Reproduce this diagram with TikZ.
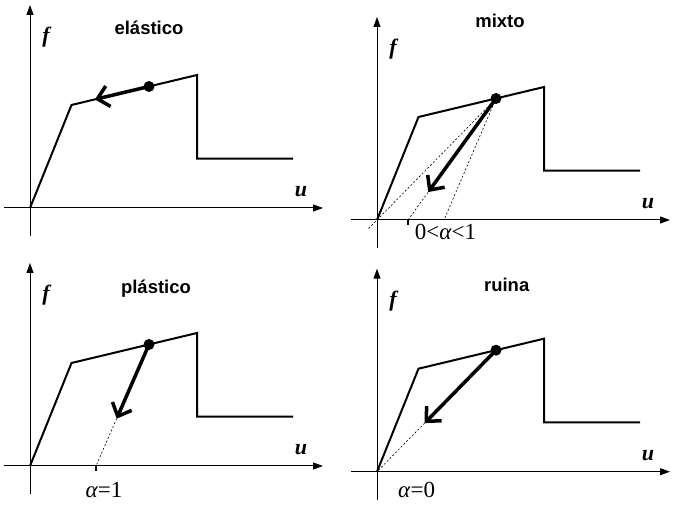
\documentclass[tikz,border=0pt]{standalone}
\usepackage{fontspec}
\setmainfont{Liberation Serif}
\newfontfamily\headfont{Liberation Sans}
\usetikzlibrary{arrows.meta,calc}
\tikzset{
    axis-line/.style = {line width=1pt, -{Triangle[length=10pt,width=7pt]}},
    law-line/.style = {line width=2pt, line join=miter},
    load-arrow/.style = {line width=3.5pt, -{Straight Barb[length=11pt,width=21pt]}},
    guide-line/.style = {line width=0.6pt, dash pattern=on 2pt off 2pt},
    tick-mark/.style = {line width=2.5pt},
    state-dot/.style = {circle, fill=black, inner sep=0pt, minimum size=11pt},
    panel-title/.style = {font=\headfont\bfseries\fontsize{18.5}{22}\selectfont, anchor=base},
    axis-name/.style = {font=\bfseries\itshape\fontsize{22}{26}\selectfont},
    alpha-label/.style = {font=\fontsize{23}{26}\selectfont, anchor=base},
    law/.pic = {
        \coordinate (-o) at (0,0);
        \coordinate (-k) at (41.5,103);
        \coordinate (-p) at (167,133);
        \coordinate (-d) at (167,49.3);
        \coordinate (-e) at (263,49.3);
        \coordinate (-s) at (119,121.5);
        \coordinate (-xa) at (-26,0);
        \coordinate (-xb) at (293,0);
        \coordinate (-ya) at (0,-28);
        \coordinate (-yb) at (0,203);
        \draw[axis-line] (-xa) -- (-xb);
        \draw[axis-line] (-ya) -- (-yb);
        \node[axis-name] (-f) at (16,171) {f};
        \node[axis-name] (-u) at (271,16) {u};
        \draw[law-line] (-o) -- (-k) -- (-p) -- (-d) -- (-e);
        \node[state-dot] (-dot) at (-s) {};
    },
}

\begin{document}
\begin{tikzpicture}[x=1pt,y=1pt]
\useasboundingbox (0,0) rectangle (678,505);

% the four load states
\pic (ela) at (30,297) {law};
\pic (mix) at (377,285) {law};
\pic (pla) at (30,39) {law};
\pic (rui) at (377,33.3) {law};

\node[panel-title] (ela-title) at (149,470) {elástico};
\node[panel-title] (mix-title) at (500,477) {mixto};
\node[panel-title] (pla-title) at (156,211.7) {plástico};
\node[panel-title] (rui-title) at (506.7,213.3) {ruina};

% elastico
\coordinate (ela-tip) at ($(ela-k)!0.187!(ela-p)$);
\draw[load-arrow] (ela-s) -- (ela-tip);

% mixto
\coordinate (mix-a) at ($(mix-o)+(31,0)$);
\coordinate (mix-b) at ($(mix-o)+(67,0)$);
\coordinate (mix-c) at ($(mix-s)!1.07!(mix-o)$);
\coordinate (mix-tip) at ($(mix-s)!0.77!(mix-a)$);
\draw[guide-line] (mix-s) -- (mix-c);
\draw[guide-line] (mix-s) -- (mix-a);
\draw[guide-line] (mix-s) -- (mix-b);
\draw[tick-mark] (mix-a) -- ++(0,-5);
\draw[load-arrow] (mix-s) -- (mix-tip);
\node[alpha-label] (mix-alpha) at ($(mix-o)+(68.5,-19.3)$) {0<\textit{α}<1};

% plastico
\coordinate (pla-a) at ($(pla-o)+(66,0)$);
\coordinate (pla-tip) at ($(pla-s)!0.61!(pla-a)$);
\draw[guide-line] (pla-tip) -- (pla-a);
\draw[tick-mark] (pla-a) -- ++(0,-5);
\draw[load-arrow] (pla-s) -- (pla-tip);
\node[alpha-label] (pla-alpha) at ($(pla-o)+(74,-31.7)$) {\textit{α}=1};

% ruina
\coordinate (rui-tip) at ($(rui-s)!0.6!(rui-o)$);
\draw[guide-line] (rui-tip) -- (rui-o);
\draw[load-arrow] (rui-s) -- (rui-tip);
\node[alpha-label] (rui-alpha) at ($(rui-o)+(39.7,-26)$) {\textit{α}=0};
\end{tikzpicture}
\end{document}
